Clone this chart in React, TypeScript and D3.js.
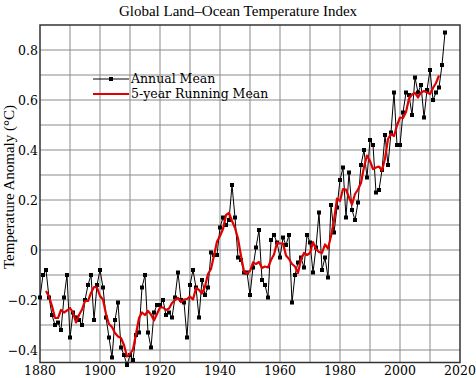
import React from "react";
import * as d3 from "d3";

const startYear = 1880;
const annualMean: number[] = [
  -0.19, -0.10, -0.08, -0.19, -0.26, -0.30, -0.29, -0.32, -0.19, -0.10,
  -0.35, -0.25, -0.27, -0.28, -0.30, -0.20, -0.14, -0.10, -0.28, -0.14,
  -0.08, -0.15, -0.27, -0.35, -0.43, -0.28, -0.21, -0.39, -0.42, -0.46,
  -0.42, -0.44, -0.34, -0.33, -0.15, -0.10, -0.33, -0.39, -0.25, -0.22,
  -0.22, -0.20, -0.26, -0.25, -0.27, -0.19, -0.09, -0.20, -0.21, -0.35,
  -0.14, -0.08, -0.15, -0.27, -0.12, -0.18, -0.15, -0.01, -0.02, -0.02,
  0.09, 0.13, 0.10, 0.12, 0.26, 0.13, -0.03, -0.04, -0.09, -0.09,
  -0.18, -0.07, 0.01, 0.08, -0.12, -0.14, -0.19, 0.04, 0.06, 0.03,
  -0.03, 0.05, 0.02, 0.06, -0.21, -0.10, -0.05, -0.03, -0.07, 0.06,
  0.03, -0.09, 0.01, 0.15, -0.08, -0.03, -0.11, 0.18, 0.07, 0.17,
  0.28, 0.33, 0.13, 0.31, 0.16, 0.12, 0.19, 0.34, 0.40, 0.29,
  0.44, 0.42, 0.23, 0.24, 0.32, 0.46, 0.34, 0.47, 0.63, 0.42,
  0.42, 0.55, 0.63, 0.62, 0.54, 0.69, 0.63, 0.66, 0.53, 0.64,
  0.72, 0.60, 0.63, 0.65, 0.74, 0.87,
];

const runningStartYear = 1882;
const runningMean: number[] = [
  -0.164, -0.186, -0.224, -0.272, -0.272, -0.240, -0.250, -0.242,
  -0.232, -0.250, -0.290, -0.260, -0.238, -0.204, -0.204, -0.172, -0.148, -0.150,
  -0.184, -0.198, -0.256, -0.296, -0.308, -0.332, -0.346, -0.352, -0.380, -0.426,
  -0.416, -0.398, -0.336, -0.272, -0.250, -0.260, -0.244, -0.258, -0.282, -0.256,
  -0.230, -0.230, -0.240, -0.234, -0.212, -0.200, -0.192, -0.208, -0.198, -0.196,
  -0.186, -0.198, -0.152, -0.160, -0.174, -0.146, -0.096, -0.076, -0.022, 0.034,
  0.056, 0.084, 0.140, 0.148, 0.116, 0.088, 0.046, -0.024, -0.086, -0.094,
  -0.084, -0.050, -0.056, -0.048, -0.072, -0.066, -0.070, -0.040, -0.018, 0.030,
  0.026, 0.026, -0.022, -0.036, -0.056, -0.066, -0.092, -0.038, -0.012, -0.020,
  -0.012, 0.032, 0.004, -0.008, -0.012, 0.022, 0.006, 0.056, 0.118, 0.206,
  0.196, 0.244, 0.242, 0.210, 0.182, 0.224, 0.242, 0.268, 0.332, 0.378,
  0.356, 0.324, 0.330, 0.334, 0.318, 0.366, 0.444, 0.464, 0.456, 0.498,
  0.530, 0.528, 0.552, 0.606, 0.622, 0.628, 0.610, 0.630, 0.636, 0.630,
  0.624, 0.648, 0.668, 0.698,
];

const xTickLabels = [1880, 1900, 1920, 1940, 1960, 1980, 2000, 2020];
const yTickLabels = [-0.4, -0.2, 0, 0.2, 0.4, 0.6, 0.8];
const title = "Global Land\u2013Ocean Temperature Index";
const yLabel = "Temperature Anomaly (\u00b0C)";
const legendLabels = ["Annual Mean", "5-year Running Mean"];

const W = 476;
const H = 378;
const L = 40, R = 460, T = 25, B = 362.5;

export default function App() {
  const x = d3.scaleLinear().domain([1880, 2020]).range([L, R]);
  const y = d3.scaleLinear().domain([-0.45, 0.9]).range([B, T]);

  const annual = annualMean.map((v, i) => [startYear + i, v] as [number, number]);
  const running = runningMean.map((v, i) => [runningStartYear + i, v] as [number, number]);

  const line = d3.line<[number, number]>().x((d) => x(d[0])).y((d) => y(d[1]));

  const xGrid = d3.range(1890, 2020, 10);
  const yGrid = d3.range(-4, 9, 1).map((v) => v / 10);

  const fmt = (v: number) => (v < 0 ? "\u2212" : "") + Math.abs(v).toFixed(1);
  const serif = "'DejaVu Serif', serif";
  const times = "'Liberation Serif', serif";

  const lx0 = 93, lx1 = 129;
  const ly0 = 79, ly1 = 94;

  return (
    <svg width={W} height={H} style={{ position: "absolute", left: 0, top: 0, background: "#fff" }}>
      <rect x={0} y={0} width={W} height={H} fill="#fff" />
      <text x={238} y={16} textAnchor="middle" fontFamily={times} fontSize={15} fill="#000">
        {title}
      </text>
      <g stroke="#8a8a8a" strokeWidth={1}>
        {xGrid.map((g) => (
          <line key={"x" + g} x1={x(g)} x2={x(g)} y1={T} y2={B} />
        ))}
        {yGrid.map((g) => (
          <line key={"y" + g} x1={L} x2={R} y1={y(g)} y2={y(g)} />
        ))}
      </g>
      <rect x={L} y={T} width={R - L} height={B - T} fill="none" stroke="#333" strokeWidth={1.5} />
      {xTickLabels.map((t) => (
        <text key={"xl" + t} x={x(t)} y={375} textAnchor="middle" fontFamily={serif} fontSize={12.5} fill="#000">
          {t}
        </text>
      ))}
      {yTickLabels.map((t) => (
        <text key={"yl" + t} x={38} y={y(t)} dy="0.36em" textAnchor="end" fontFamily={serif} fontSize={12.5} fill="#000">
          {t === 0 ? "0" : fmt(t)}
        </text>
      ))}
      <text
        transform={`translate(14, 187) rotate(-90)`}
        textAnchor="middle"
        fontFamily={times}
        fontSize={15}
        fill="#000"
      >
        {yLabel}
      </text>
      <path d={line(annual) || ""} fill="none" stroke="#000" strokeWidth={1} />
      <g fill="#000">
        {annual.map((d) => (
          <rect key={"m" + d[0]} x={x(d[0]) - 2} y={y(d[1]) - 2} width={4} height={4} />
        ))}
      </g>
      <path d={line(running) || ""} fill="none" stroke="#e00000" strokeWidth={2.2} strokeLinejoin="round" />
      <g>
        <line x1={lx0} x2={lx1} y1={ly0} y2={ly0} stroke="#000" strokeWidth={1} />
        <rect x={(lx0 + lx1) / 2 - 2} y={ly0 - 2} width={4} height={4} fill="#000" />
        <line x1={lx0} x2={lx1} y1={ly1} y2={ly1} stroke="#e00000" strokeWidth={2.2} />
        <text x={131} y={83} fontFamily={serif} fontSize={12.5} fill="#000">
          {legendLabels[0]}
        </text>
        <text x={131} y={98} fontFamily={serif} fontSize={12.5} fill="#000">
          {legendLabels[1]}
        </text>
      </g>
    </svg>
  );
}
